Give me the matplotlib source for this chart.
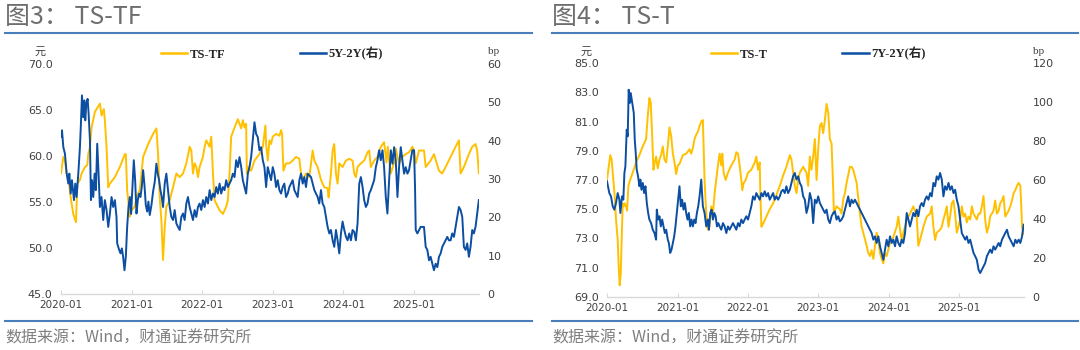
import numpy as np
import matplotlib
matplotlib.use('Agg')
import matplotlib.pyplot as plt
from matplotlib.lines import Line2D

plt.rcParams['font.family'] = ['Noto Sans CJK SC', 'DejaVu Sans']

YELLOW = '#FFC000'
BLUE = '#0B4EA2'
RULE = '#4A7EBB'
GREY_TXT = '#7F7F7F'
TICK_TXT = '#404040'

# ---------------- data (time = years since 2020-01-01) ----------------
tick_labels = ['2020-01', '2021-01', '2022-01', '2023-01', '2024-01', '2025-01']

# Fig 3 : TS-TF (yuan, left axis)
tf_t = [0.000,0.033,0.056,0.080,0.104,0.137,0.174,0.212,0.231,0.268,
        0.292,0.339,0.372,0.386,0.410,0.433,0.480,0.551,0.574,0.607,
        0.621,0.645,0.669,0.692,0.763,0.833,0.904,0.918,0.937,0.975,
        0.998,1.045,1.069,1.116,1.163,1.234,1.304,1.351,1.375,1.398,
        1.422,1.445,1.469,1.492,1.540,1.587,1.634,1.681,1.728,1.775,
        1.822,1.846,1.869,1.893,1.916,1.940,1.963,2.010,2.034,2.057,
        2.105,2.128,2.152,2.175,2.246,2.293,2.340,2.363,2.387,2.410,
        2.458,2.505,2.528,2.552,2.575,2.599,2.622,2.632,2.646,2.693,
        2.740,2.810,2.858,2.895,2.905,2.928,2.952,2.975,2.999,3.046,
        3.093,3.116,3.131,3.150,3.187,3.234,3.281,3.328,3.375,
        3.399,3.423,3.470,3.517,3.564,3.588,3.635,3.682,3.729,3.776,
        3.790,3.823,3.847,3.870,3.894,3.917,3.941,3.988,4.035,4.082,
        4.129,4.153,4.176,4.200,4.247,4.294,4.341,4.365,4.388,4.435,
        4.482,4.529,4.576,4.590,4.609,4.628,4.647,4.671,4.718,4.741,
        4.788,4.835,4.882,4.929,4.976,5.000,5.024,5.071,5.141,5.165,
        5.235,5.282,5.353,5.400,5.447,5.518,5.588,5.636,5.659,5.706,
        5.777,5.824,5.871,5.894,5.918]
tf_v = [58.1,59.9,59.5,58.1,57.7,55.5,53.7,52.8,57.0,57.4,
        58.1,58.8,59.0,60.2,61.0,63.1,64.8,65.7,64.4,65.1,
        63.9,61.0,56.6,57.0,57.7,58.8,60.2,60.2,56.3,53.4,
        54.1,54.5,55.5,56.3,59.9,61.3,62.4,63.0,60.2,55.5,
        53.0,48.7,52.3,54.5,55.2,56.6,58.1,57.7,58.1,59.2,
        61.0,60.6,58.1,59.2,58.8,57.7,58.8,59.9,61.0,61.7,
        61.0,62.1,58.1,55.2,54.1,53.7,54.5,55.2,58.1,62.1,
        63.1,64.0,63.5,63.0,63.9,63.1,63.5,58.1,58.8,58.4,
        59.5,60.2,61.0,63.3,61.3,59.5,61.7,61.3,62.1,62.4,
        62.2,62.8,62.4,58.4,59.2,59.2,59.5,59.9,59.7,
        58.1,57.4,58.1,57.7,60.6,59.5,58.8,57.4,56.6,56.5,
        55.5,58.1,60.6,61.3,58.1,57.0,59.2,58.8,59.5,59.7,
        59.5,58.1,57.7,58.8,59.2,59.5,60.4,60.6,58.8,59.5,
        59.9,61.0,61.5,60.6,59.3,61.0,59.5,58.1,59.3,60.8,
        59.2,59.9,60.2,60.4,61.0,60.6,59.2,60.6,60.6,58.8,
        59.5,60.2,58.4,58.1,58.8,59.9,61.0,61.7,58.1,58.8,
        60.2,61.0,61.3,60.6,58.1]

# Fig 3 : 5Y-2Y (bp, right axis)
s52_t = [0.000,0.014,0.033,0.056,0.080,0.104,0.118,0.137,0.155,0.184,
         0.202,0.221,0.245,0.268,0.282,0.297,0.315,0.330,0.344,0.358,
         0.377,0.391,0.410,0.424,0.438,0.457,0.476,0.494,0.513,0.532,
         0.551,0.574,0.598,0.621,0.645,0.669,0.692,0.716,0.739,0.763,
         0.786,0.796,0.824,0.843,0.862,0.880,0.899,0.918,0.937,0.956,
         0.975,0.993,1.012,1.031,1.050,1.069,1.088,1.106,1.125,1.144,
         1.163,1.182,1.201,1.220,1.238,1.257,1.281,1.304,1.328,1.351,
         1.370,1.389,1.408,1.427,1.445,1.469,1.492,1.516,1.540,1.563,
         1.587,1.610,1.634,1.657,1.681,1.704,1.728,1.751,1.775,1.798,
         1.822,1.846,1.869,1.893,1.916,1.940,1.963,1.987,2.010,2.034,
         2.057,2.081,2.105,2.128,2.152,2.175,2.199,2.222,2.246,2.269,
         2.293,2.316,2.340,2.363,2.387,2.410,2.434,2.458,2.481,2.505,
         2.528,2.552,2.575,2.599,2.622,2.646,2.669,2.693,2.716,2.740,
         2.763,2.787,2.810,2.834,2.858,2.881,2.905,2.928,2.952,2.975,
         2.999,3.022,3.046,3.069,3.093,3.116,3.140,3.163,3.187,3.211,
         3.234,3.258,3.281,3.305,3.328,3.352,3.376,3.399,3.423,3.446,
         3.470,3.493,3.541,3.564,3.588,3.635,3.658,3.682,3.705,3.729,
         3.753,3.776,3.800,3.823,3.847,3.870,3.894,3.917,3.941,3.965,
         3.988,4.012,4.035,4.059,4.082,4.106,4.129,4.153,4.176,4.200,
         4.224,4.247,4.271,4.294,4.318,4.341,4.365,4.388,4.435,4.459,
         4.482,4.506,4.529,4.553,4.576,4.600,4.623,4.647,4.671,4.694,
         4.718,4.741,4.765,4.788,4.812,4.835,4.859,4.882,4.906,4.929,
         4.953,4.976,5.000,5.014,5.024,5.047,5.071,5.094,5.141,5.165,
         5.188,5.212,5.235,5.259,5.282,5.306,5.330,5.353,5.377,5.400,
         5.447,5.471,5.494,5.518,5.541,5.565,5.588,5.612,5.636,5.659,
         5.683,5.706,5.730,5.753,5.777,5.800,5.824,5.847,5.871,5.894,
         5.918]
s52_v = [41.0,42.7,38.3,36.6,31.4,28.8,31.4,26.2,29.7,24.5,
         28.8,25.3,31.4,38.3,44.4,51.8,46.1,50.5,45.3,49.6,
         50.9,47.0,40.1,24.5,29.7,25.3,31.4,27.1,39.2,31.4,
         22.7,25.3,19.3,24.5,21.9,17.5,20.9,25.3,22.7,24.5,
         20.1,13.2,11.5,10.6,11.9,9.7,6.2,9.7,17.5,22.7,
         25.3,20.9,27.9,34.9,29.7,21.0,24.5,26.2,25.3,27.9,
         32.3,28.4,23.2,21.5,24.1,20.6,23.2,26.7,29.3,34.0,
         31.4,29.7,27.1,25.3,22.7,28.8,31.4,27.1,22.7,20.1,
         19.3,21.9,18.4,17.5,16.7,20.1,21.0,19.3,23.6,25.3,
         22.7,21.0,19.3,21.9,20.1,22.7,23.6,21.9,24.5,22.7,
         25.3,23.6,27.1,24.5,26.2,25.3,27.9,26.2,28.8,26.2,
         27.9,27.1,29.7,27.9,28.8,29.7,31.4,30.5,34.9,33.1,
         35.7,33.1,29.7,27.9,26.2,31.4,33.1,35.7,40.1,44.8,
         41.8,40.9,37.5,38.3,34.9,33.1,27.9,33.1,31.4,29.7,
         33.1,31.4,27.9,29.7,27.1,26.2,27.9,28.8,25.3,26.2,
         27.9,28.8,29.7,27.1,26.2,25.3,29.7,31.4,28.8,30.5,
         27.9,31.4,30.5,28.8,27.1,25.3,23.6,27.1,23.6,22.7,
         20.1,17.5,15.8,16.7,14.0,12.3,16.7,14.0,10.6,15.8,
         18.9,16.7,15.0,14.0,15.8,14.0,16.7,16.2,14.0,18.4,
         28.8,30.5,27.9,24.5,22.7,23.6,26.2,27.1,29.7,33.1,
         34.9,37.5,34.9,37.5,33.1,25.3,21.0,29.7,37.5,34.0,
         38.3,34.9,25.3,33.1,38.3,34.9,31.4,33.1,31.4,32.3,
         34.9,37.5,37.5,27.9,16.7,15.8,16.7,17.5,17.5,12.3,
         11.5,8.8,9.7,7.9,6.2,7.9,7.0,9.7,10.6,12.3,
         14.0,14.9,14.0,14.0,15.8,14.9,17.5,20.1,22.7,21.9,
         20.1,12.3,11.5,13.2,9.7,12.3,16.7,15.8,17.5,21.0,
         24.5]

# Fig 4 : TS-T (yuan, left axis)
tt_t = [0.000,0.024,0.047,0.066,0.090,0.109,0.128,0.152,0.166,0.180,
        0.195,0.209,0.223,0.237,0.251,0.270,0.285,0.304,0.327,0.365,
        0.413,0.460,0.508,0.555,0.579,0.602,0.621,0.640,0.659,0.678,
        0.697,0.721,0.745,0.768,0.792,0.816,0.840,0.863,0.887,0.911,
        0.935,0.958,0.982,1.006,1.029,1.053,1.077,1.124,1.172,1.195,
        1.219,1.243,1.267,1.290,1.314,1.338,1.361,1.385,1.409,1.433,
        1.456,1.480,1.504,1.528,1.551,1.575,1.599,1.622,1.637,1.656,
        1.684,1.717,1.765,1.812,1.836,1.860,1.883,1.907,1.921,1.940,
        1.969,2.002,2.049,2.097,2.120,2.144,2.168,2.177,2.192,2.215,
        2.263,2.310,2.358,2.400,2.453,2.500,2.547,2.595,2.619,2.666,
        2.690,2.714,2.737,2.785,2.832,2.856,2.880,2.903,2.927,2.951,
        2.975,2.998,3.022,3.046,3.069,3.093,3.117,3.141,3.164,3.188,
        3.212,3.221,3.235,3.259,3.306,3.330,3.354,3.378,3.401,3.449,
        3.472,3.496,3.544,3.591,3.615,3.638,3.686,3.710,3.733,3.757,
        3.781,3.804,3.828,3.852,3.876,3.899,3.923,3.947,3.970,4.018,
        4.065,4.112,4.136,4.160,4.183,4.207,4.231,4.255,4.302,4.349,
        4.397,4.420,4.444,4.492,4.539,4.587,4.610,4.634,4.658,4.681,
        4.729,4.753,4.776,4.800,4.824,4.848,4.871,4.895,4.919,4.942,
        4.966,4.990,5.013,5.037,5.061,5.085,5.108,5.132,5.156,5.180,
        5.203,5.227,5.250,5.275,5.298,5.322,5.345,5.369,5.393,5.417,
        5.440,5.464,5.487,5.511,5.535,5.560,5.582,5.607,5.630,5.654,
        5.678,5.702,5.725,5.749,5.773,5.797,5.820,5.844,5.868,5.877,
        5.892,5.915]
tt_v = [77.0,77.9,78.7,78.4,77.0,75.9,74.3,72.9,71.1,69.8,
        70.6,72.9,75.4,75.2,75.4,75.2,74.9,76.6,77.0,77.5,
        78.2,78.7,79.3,79.8,81.4,82.6,82.3,80.2,77.7,78.2,
        78.6,77.8,78.4,78.7,79.3,78.4,78.2,79.3,80.6,80.0,
        78.8,78.2,77.4,78.0,78.1,78.4,78.7,78.8,79.1,78.8,
        79.2,79.8,80.1,80.3,80.7,81.0,81.1,77.0,74.7,73.6,
        73.8,75.2,74.7,76.1,77.0,78.0,78.8,78.0,78.8,77.5,
        77.0,77.5,78.0,78.4,78.9,78.8,78.0,77.0,76.3,76.8,
        77.0,77.5,77.7,78.2,78.6,77.7,78.2,76.1,73.8,74.0,
        74.5,75.0,75.4,75.9,76.6,77.3,77.9,78.7,78.4,76.6,
        76.1,77.0,77.5,77.9,77.5,76.6,78.6,77.7,78.6,79.8,
        77.0,79.1,80.7,80.9,80.2,81.1,82.2,81.6,79.8,79.5,
        76.3,74.7,74.9,75.2,75.0,74.7,75.7,76.1,76.8,77.9,
        77.9,77.7,76.8,74.7,73.8,73.4,72.5,72.0,71.8,72.2,
        71.6,72.5,73.4,72.9,72.0,71.6,71.3,72.0,71.8,72.7,
        73.1,73.8,74.5,73.6,72.9,73.4,73.8,74.3,74.7,75.2,
        74.5,72.5,72.9,73.8,74.5,74.7,75.2,73.8,72.9,73.4,
        73.6,73.8,74.3,74.7,75.2,73.8,74.5,75.4,75.6,74.7,
        73.4,73.8,74.3,75.2,74.5,74.7,74.1,74.5,74.3,75.2,
        74.7,74.5,74.3,74.7,74.7,75.2,75.9,74.3,73.4,73.8,
        74.5,74.7,74.9,75.6,74.7,74.9,75.4,75.6,75.9,74.5,
        74.7,74.9,75.2,75.6,76.1,76.3,76.6,76.8,76.6,75.7,
        73.8,73.3]

# Fig 4 : 7Y-2Y (bp, right axis)
s72_t = [0.000,0.014,0.033,0.057,0.081,0.104,0.128,0.152,0.176,0.190,
         0.213,0.232,0.247,0.261,0.280,0.294,0.308,0.323,0.337,0.351,
         0.365,0.380,0.394,0.408,0.422,0.441,0.460,0.474,0.489,0.508,
         0.527,0.546,0.565,0.584,0.602,0.626,0.650,0.674,0.697,0.707,
         0.726,0.745,0.764,0.783,0.802,0.821,0.840,0.863,0.878,0.897,
         0.916,0.935,0.954,0.972,0.991,1.010,1.029,1.048,1.067,1.086,
         1.105,1.124,1.143,1.162,1.181,1.200,1.219,1.238,1.257,1.276,
         1.295,1.314,1.338,1.361,1.385,1.409,1.433,1.447,1.466,1.485,
         1.504,1.523,1.542,1.561,1.580,1.599,1.622,1.646,1.670,1.694,
         1.717,1.741,1.765,1.788,1.812,1.836,1.860,1.883,1.907,1.931,
         1.954,1.978,2.002,2.026,2.049,2.073,2.097,2.120,2.144,2.168,
         2.192,2.215,2.239,2.263,2.287,2.310,2.334,2.358,2.381,2.405,
         2.429,2.453,2.476,2.500,2.524,2.547,2.571,2.595,2.619,2.642,
         2.666,2.690,2.714,2.737,2.761,2.785,2.809,2.832,2.856,2.880,
         2.903,2.927,2.951,2.975,2.998,3.022,3.046,3.069,3.093,3.117,
         3.141,3.164,3.188,3.212,3.235,3.259,3.283,3.306,3.330,3.354,
         3.378,3.401,3.425,3.449,3.472,3.496,3.520,3.544,3.567,3.591,
         3.615,3.638,3.662,3.686,3.710,3.733,3.757,3.781,3.804,3.828,
         3.852,3.876,3.899,3.923,3.947,3.970,3.994,4.018,4.041,4.065,
         4.089,4.112,4.136,4.160,4.183,4.207,4.231,4.255,4.279,4.302,
         4.326,4.349,4.373,4.397,4.420,4.444,4.468,4.492,4.515,4.539,
         4.563,4.587,4.610,4.634,4.658,4.681,4.705,4.729,4.753,4.776,
         4.800,4.824,4.848,4.871,4.895,4.919,4.942,4.966,4.990,5.013,
         5.037,5.061,5.085,5.108,5.132,5.156,5.180,5.203,5.227,5.250,
         5.275,5.298,5.322,5.345,5.369,5.393,5.417,5.440,5.464,5.487,
         5.511,5.535,5.560,5.582,5.607,5.630,5.654,5.678,5.702,5.725,
         5.749,5.773,5.797,5.820,5.844,5.868,5.892,5.915]
s72_v = [59.3,56.8,53.3,51.6,46.5,44.8,48.2,53.3,49.9,43.1,
         51.6,49.9,63.6,67.0,85.8,82.4,106.3,99.5,104.6,101.2,
         97.8,94.4,80.7,73.8,65.3,61.9,56.8,60.2,55.0,58.5,
         53.3,56.8,48.2,43.1,39.7,37.9,34.5,32.8,29.4,44.8,
         39.7,41.4,36.2,39.7,36.2,32.8,34.5,29.4,27.7,22.6,
         24.3,27.7,31.1,36.2,43.1,49.9,56.8,46.5,49.9,44.8,
         48.2,43.1,39.7,43.1,36.2,39.7,36.2,39.7,37.9,43.1,
         46.5,51.6,60.2,46.5,43.1,36.2,39.7,34.5,43.1,44.8,
         39.7,43.1,41.4,36.2,37.9,36.2,34.5,37.9,36.2,32.8,
         36.2,34.5,36.2,37.9,36.2,34.5,37.9,36.2,39.7,37.9,
         39.7,41.4,39.7,43.1,46.5,51.6,49.9,53.3,51.6,49.9,
         53.3,51.6,54.2,51.6,53.3,49.9,51.6,53.3,49.9,51.6,
         49.9,51.6,54.2,55.0,53.3,56.8,53.3,55.0,58.5,61.9,
         63.6,60.2,61.9,58.5,56.8,51.6,49.9,43.1,46.5,53.3,
         49.9,37.9,49.9,48.2,51.6,48.2,46.5,44.8,43.1,44.8,
         39.7,37.9,41.4,43.1,43.9,39.7,41.4,38.8,39.7,41.4,
         44.8,48.2,51.6,46.5,49.9,48.2,49.9,48.2,46.5,44.8,
         43.1,41.4,39.7,37.9,36.2,34.5,32.8,29.4,31.1,27.7,
         31.1,26.0,22.6,19.1,24.3,29.4,26.0,31.1,27.7,29.4,
         26.0,31.1,27.7,26.0,29.4,27.7,32.8,43.1,39.7,36.2,
         39.7,43.1,41.4,44.8,41.4,46.5,48.2,46.5,49.9,51.6,
         49.9,53.3,51.6,58.5,56.8,61.9,60.2,63.6,60.2,51.6,
         56.8,55.0,58.5,55.0,56.8,53.3,55.0,49.9,46.5,39.7,
         32.8,31.1,29.4,31.1,27.7,29.4,26.0,22.6,20.9,19.1,
         14.0,12.3,14.0,15.7,17.4,20.9,22.6,24.3,22.6,26.0,
         24.3,26.0,27.7,26.0,29.4,31.1,32.8,34.5,31.1,29.4,
         27.7,26.0,29.4,27.7,29.4,27.7,31.1,37.1]


def to_dates(t):
    base = np.datetime64('2020-01-01T00:00')
    mins = np.round(np.asarray(t, dtype=float) * 365.25 * 24 * 60).astype(np.int64)
    return base + mins.astype('timedelta64[m]')


W, H = 1080, 350
fig = plt.figure(figsize=(W / 100, H / 100), dpi=100)


def fx(px):
    return px / W


def fy(py):
    return 1 - py / H


def panel(x0, x1, ytop, ybot, left_t, left_v, left_lim, left_ticks, left_fmt,
          right_t, right_v, right_lim, right_ticks,
          title, leg_left, leg_right, leg_cx, hx0, hx1):
    ax = fig.add_axes([fx(x0), fy(ybot), fx(x1 - x0), fy(ytop) - fy(ybot)])
    ax2 = ax.twinx()
    ax.plot(to_dates(left_t), left_v, color=YELLOW, lw=1.4, solid_joinstyle='round')
    ax2.plot(to_dates(right_t), right_v, color=BLUE, lw=1.4, solid_joinstyle='round')
    ax.set_ylim(*left_lim)
    ax2.set_ylim(*right_lim)
    ax.set_xlim(to_dates([0.0])[0], to_dates([5.92])[0])
    ax.set_yticks(left_ticks)
    ax.set_yticklabels([left_fmt.format(v) for v in left_ticks])
    ax2.set_yticks(right_ticks)
    ax2.set_yticklabels([str(v) for v in right_ticks])
    tick_pos = [np.datetime64(s + '-01') for s in tick_labels]
    ax.set_xticks(tick_pos)
    ax.set_xticklabels(tick_labels)
    for a in (ax, ax2):
        for s in ('top', 'right', 'left', 'bottom'):
            a.spines[s].set_visible(False)
        a.patch.set_visible(False)
    ax.spines['bottom'].set_visible(True)
    ax.spines['bottom'].set_color('#D9D9D9')
    ax.spines['bottom'].set_linewidth(1.0)
    ax.tick_params(axis='x', direction='in', length=3, width=0.8, color='#D9D9D9',
                   labelsize=7.5, labelcolor=TICK_TXT, pad=4)
    ax.tick_params(axis='y', length=0, labelsize=8, labelcolor=TICK_TXT, pad=6)
    ax2.tick_params(axis='y', length=0, labelsize=8, labelcolor=TICK_TXT, pad=6)
    for lab in ax.get_xticklabels() + ax.get_yticklabels() + ax2.get_yticklabels():
        lab.set_fontfamily(['DejaVu Sans'])

    # unit labels
    fig.text(fx(x0 - 21), fy(52), '元', ha='center', va='center', fontsize=8,
             color=TICK_TXT, style='italic')
    fig.text(fx(x1 + 15), fy(52), 'bp', ha='center', va='center', fontsize=8,
             color=TICK_TXT, family=['Liberation Serif'])

    # legend
    handles = [Line2D([], [], color=YELLOW, lw=1.8), Line2D([], [], color=BLUE, lw=1.8)]
    leg = fig.legend(handles, [leg_left, leg_right], ncol=2, loc='center',
                     bbox_to_anchor=(fx(leg_cx), fy(54)), frameon=False,
                     handlelength=2.1, handletextpad=0.2, columnspacing=6.0,
                     prop={'family': ['Liberation Serif', 'Noto Sans CJK SC'],
                           'size': 9, 'weight': 'bold'})
    for txt in leg.get_texts():
        txt.set_color('#262626')

    # title, rules, footer
    fig.text(fx(hx0), fy(17), title, ha='left', va='center', fontsize=18,
             color='#6E6E6E')
    fig.add_artist(Line2D([fx(hx0), fx(hx1)], [fy(33), fy(33)], color=RULE, lw=1.5))
    fig.add_artist(Line2D([fx(hx0), fx(hx1)], [fy(321), fy(321)], color=RULE, lw=1.5))
    fig.text(fx(hx0), fy(338), '数据来源：Wind，财通证券研究所', ha='left', va='center',
             fontsize=11.5, color=GREY_TXT)
    return ax, ax2


panel(61, 479, 64, 294, tf_t, tf_v, (45, 70), [45, 50, 55, 60, 65, 70], '{:.1f}',
      s52_t, s52_v, (0, 60), [0, 10, 20, 30, 40, 50, 60],
      '图3： TS-TF', 'TS-TF', '5Y-2Y(右)', 272, 5, 532)

panel(607, 1024, 63, 297, tt_t, tt_v, (69, 85), [69, 71, 73, 75, 77, 79, 81, 83, 85], '{:.1f}',
      s72_t, s72_v, (0, 120), [0, 20, 40, 60, 80, 100, 120],
      '图4： TS-T', 'TS-T', '7Y-2Y(右)', 818, 552, 1078)

fig.savefig('out.png', dpi=100)
